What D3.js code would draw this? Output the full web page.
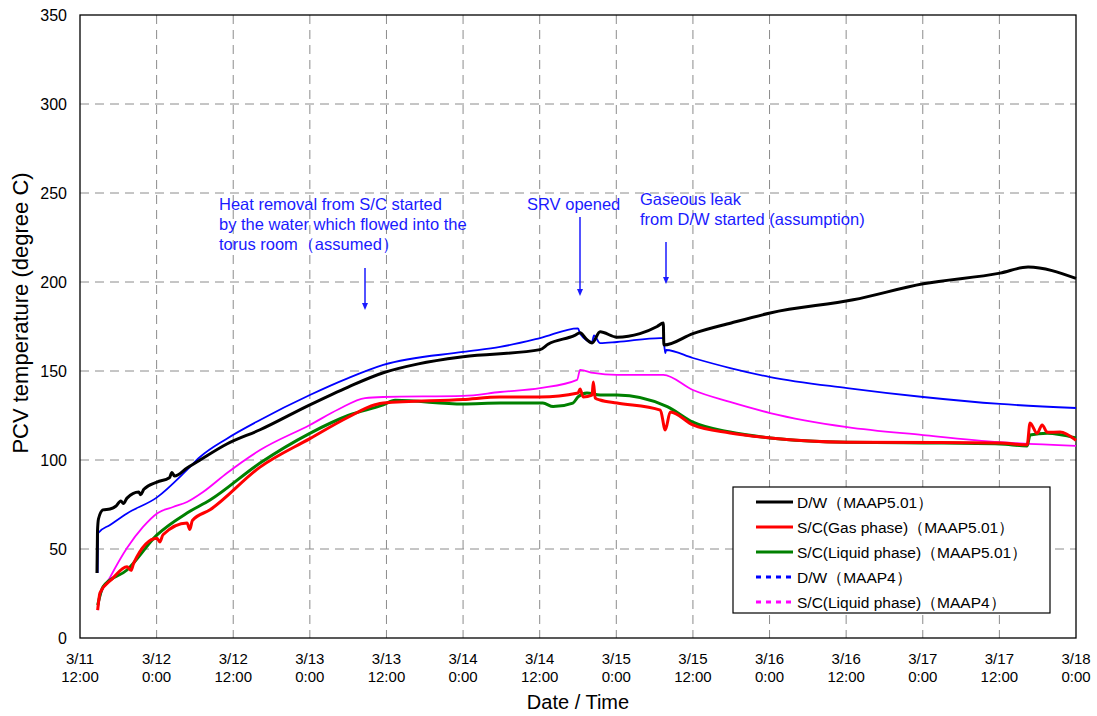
<!DOCTYPE html>
<html>
<head>
<meta charset="utf-8">
<title>PCV temperature</title>
<script src="https://cdn.jsdelivr.net/npm/d3@7"></script>
<style>
  body { margin: 0; background: #fff; }
  svg text { font-family: Arial, "Liberation Sans", sans-serif; }
</style>
</head>
<body>
<svg id="chart" width="1097" height="716"></svg>
<script>
// hours counted from 3/11 12:00
var tickDates = ["3/11","3/12","3/12","3/13","3/13","3/14","3/14","3/15","3/15","3/16","3/16","3/17","3/17","3/18"];
var tickTimes = ["12:00","0:00","12:00","0:00","12:00","0:00","12:00","0:00","12:00","0:00","12:00","0:00","12:00","0:00"];
var yTicks = [0, 50, 100, 150, 200, 250, 300, 350];

// D/W (MAAP5.01)
var dwMaap5 = [[2.66,36.5],[2.74,60],[2.9,67],[3.6,72],[4.7,72.5],[5.6,74],[6.4,77],[6.8,75.5],[7.36,78.6],[9.2,82],[9.5,80.5],[10,83.5],[12.06,87.6],[14,90],[14.4,93],[14.8,91],[16.76,95.5],[18.8,100],[23,109],[28.2,117],[36,131],[42,141],[47.5,149],[53,154],[60,158],[72.06,162],[73.3,165],[77.5,170],[78.33,171.5],[79.27,168],[80.2,165.7],[81.46,172],[84.1,169],[87.7,171],[90.4,175],[91.36,177],[91.45,164.6],[96,171],[102,177],[108.1,182.6],[121.1,190],[132.06,199],[144.1,205],[148.5,208.4],[156,202]];
// S/C gas phase (MAAP5.01)
var scGasMaap5 = [[2.77,15.7],[3.13,25.3],[5,33],[7.36,40],[8,38],[8.4,42],[12.06,56],[12.5,54],[13,58],[16.76,64.6],[17.2,61],[17.6,66],[20.37,72],[28.2,96],[36,112],[42,124],[46.2,131],[47.5,132],[60,134],[65.8,135.4],[72.06,135.4],[78,137.6],[78.33,139.9],[78.8,135.4],[80.2,136.5],[80.4,143.8],[80.7,134.8],[81.46,133.7],[84.1,132],[90.9,128],[91.67,116.9],[92.45,127],[96,119.7],[101.8,115.2],[108.1,112.4],[120.16,110],[144.1,109.6],[148.35,108.5],[148.8,120.8],[149.9,115],[150.7,119.7],[151.5,115.6],[153.5,115.7],[156,111]];
// S/C liquid phase (MAAP5.01)
var scLiqMaap5 = [[2.77,18.5],[3.6,28.7],[7.36,38.2],[12.06,57.9],[16.76,70.2],[20.37,77.5],[28.2,98.3],[36,115],[42,125],[47.5,131],[49.35,133.5],[60,131.5],[65.8,132],[72.5,132],[74.1,130],[77.2,132],[78,135.4],[79.4,137.6],[81.46,136.5],[84.1,136.5],[91.98,130],[96,121.3],[101.8,115.7],[108.1,112.4],[120.16,110],[132.06,109.6],[144.1,109],[148.35,107.9],[148.8,114],[151.5,115],[156,112.4]];
// D/W (MAAP4)
var dwMaap4 = [[2.77,36.5],[2.85,59],[4.7,63.5],[7.36,70],[12.06,79],[16.76,94.4],[18.8,101.7],[23,112],[28.2,122.5],[36,136.5],[42,146],[47.5,153.4],[60,160.7],[65.8,163.5],[72.06,168.5],[78,174],[78.33,171],[80.2,166.3],[80.5,170],[81.46,165.7],[84.1,166.3],[90.9,168.5],[91.36,168.5],[91.67,160],[91.8,161.8],[96,157.3],[102,151.5],[108.1,146.6],[120.16,140.4],[132.06,135.4],[144.1,131.5],[156,129.2]];
// S/C liquid phase (MAAP4)
var scLiqMaap4 = [[2.77,15.7],[3.13,23],[4.7,34],[7.36,50.5],[9.87,62.4],[12.06,70],[14.57,73.6],[16.76,76.4],[19.27,82],[23.03,92.7],[28.2,105.6],[36,119.7],[40.5,128.5],[44.65,134.8],[47.5,135.4],[60,136],[65.8,138.2],[72.06,140.4],[77.86,145],[78.33,150.6],[80.4,148.9],[84.1,147.8],[91.36,147.8],[96,139.3],[101.8,132.6],[108.1,126.4],[120.16,118.5],[132.06,114],[144.1,110],[156,107.9]];

var seriesNames = ["D/W（MAAP5.01）","S/C(Gas phase)（MAAP5.01）","S/C(Liquid phase)（MAAP5.01）","D/W（MAAP4）","S/C(Liquid phase)（MAAP4）"];
var seriesColors = ["#000000","#ff0000","#008000","#0000ff","#ff00ff"];
var seriesData = [dwMaap5, scGasMaap5, scLiqMaap5, dwMaap4, scLiqMaap4];

var svg = d3.select("#chart");
var plotL = 80, plotR = 1076, plotT = 15, plotB = 638;

var x = d3.scaleLinear().domain([0, 156]).range([plotL, plotR]);
var y = d3.scaleLinear().domain([0, 350]).range([plotB, plotT]);

// grid
var grid = svg.append("g");
grid.selectAll("line.v").data(d3.range(1, 13)).enter().append("line")
  .attr("x1", function(d){ return x(d*12); }).attr("x2", function(d){ return x(d*12); })
  .attr("y1", plotT).attr("y2", plotB)
  .attr("stroke", "#8c8c8c").attr("stroke-dasharray", "9,6").attr("stroke-width", 1);
grid.selectAll("line.h").data(yTicks.slice(1, -1)).enter().append("line")
  .attr("y1", function(d){ return y(d); }).attr("y2", function(d){ return y(d); })
  .attr("x1", plotL).attr("x2", plotR)
  .attr("stroke", "#8c8c8c").attr("stroke-dasharray", "9,6").attr("stroke-width", 1);

// frame
svg.append("rect").attr("x", plotL).attr("y", plotT)
  .attr("width", plotR-plotL).attr("height", plotB-plotT)
  .attr("fill", "none").attr("stroke", "#000").attr("stroke-width", 1.3);

// y axis labels
svg.selectAll("text.yt").data(yTicks).enter().append("text")
  .attr("x", 67).attr("y", function(d){ return y(d) + 5.5; })
  .attr("text-anchor", "end").attr("font-size", 16).text(function(d){ return d; });

// x axis labels
var xl = svg.selectAll("g.xt").data(tickDates).enter().append("g");
xl.append("text").attr("x", function(d,i){ return x(i*12); }).attr("y", 664)
  .attr("text-anchor", "middle").attr("font-size", 15).text(function(d){ return d; });
xl.append("text").attr("x", function(d,i){ return x(i*12); }).attr("y", 682)
  .attr("text-anchor", "middle").attr("font-size", 15).text(function(d,i){ return tickTimes[i]; });

svg.append("text").attr("x", 578).attr("y", 709).attr("text-anchor", "middle")
  .attr("font-size", 20).text("Date / Time");
svg.append("text").attr("transform", "translate(28,313) rotate(-90)")
  .attr("text-anchor", "middle").attr("font-size", 22).text("PCV temperature (degree C)");

// series
var line = d3.line().curve(d3.curveMonotoneX)
  .x(function(d){ return x(d[0]); }).y(function(d){ return y(d[1]); });
var drawOrder = [3, 4, 0, 2, 1];
drawOrder.forEach(function(i){
  svg.append("path").datum(seriesData[i])
    .attr("d", line).attr("fill", "none")
    .attr("stroke", seriesColors[i])
    .attr("stroke-width", i < 3 ? 3 : 1.8)
    .attr("stroke-linejoin", "round");
});

// annotations
var blue = "#1a1aff";
var notes = [
  {x: 219, y: 210, lines: ["Heat removal from S/C started", "by the water which flowed into the", "torus room（assumed）"], ax: 365, ay1: 268, ay2: 310},
  {x: 527, y: 210, lines: ["SRV opened"], ax: 580, ay1: 217, ay2: 296},
  {x: 640, y: 205, lines: ["Gaseous leak", "from D/W started (assumption)"], ax: 666, ay1: 242, ay2: 284}
];
notes.forEach(function(n){
  n.lines.forEach(function(t, k){
    svg.append("text").attr("x", n.x).attr("y", n.y + k*20)
      .attr("font-size", 16.5).attr("fill", blue).text(t);
  });
  svg.append("line").attr("x1", n.ax).attr("x2", n.ax).attr("y1", n.ay1).attr("y2", n.ay2 - 5)
    .attr("stroke", blue).attr("stroke-width", 1.5);
  svg.append("path").attr("d", "M" + (n.ax-3) + "," + (n.ay2-7) + "L" + (n.ax+3) + "," + (n.ay2-7) + "L" + n.ax + "," + n.ay2 + "Z")
    .attr("fill", blue);
});

// legend
var lg = svg.append("g");
lg.append("rect").attr("x", 733).attr("y", 487).attr("width", 317).attr("height", 126)
  .attr("fill", "#fff").attr("stroke", "#000").attr("stroke-width", 1.2);
seriesNames.forEach(function(name, i){
  var yy = 502 + i*25;
  lg.append("line").attr("x1", 756).attr("x2", 793).attr("y1", yy).attr("y2", yy)
    .attr("stroke", seriesColors[i]).attr("stroke-width", 3)
    .attr("stroke-dasharray", i < 3 ? null : "5,5");
  lg.append("text").attr("x", 797).attr("y", yy + 5.5).attr("font-size", 15.5).text(name);
});
</script>
</body>
</html>
